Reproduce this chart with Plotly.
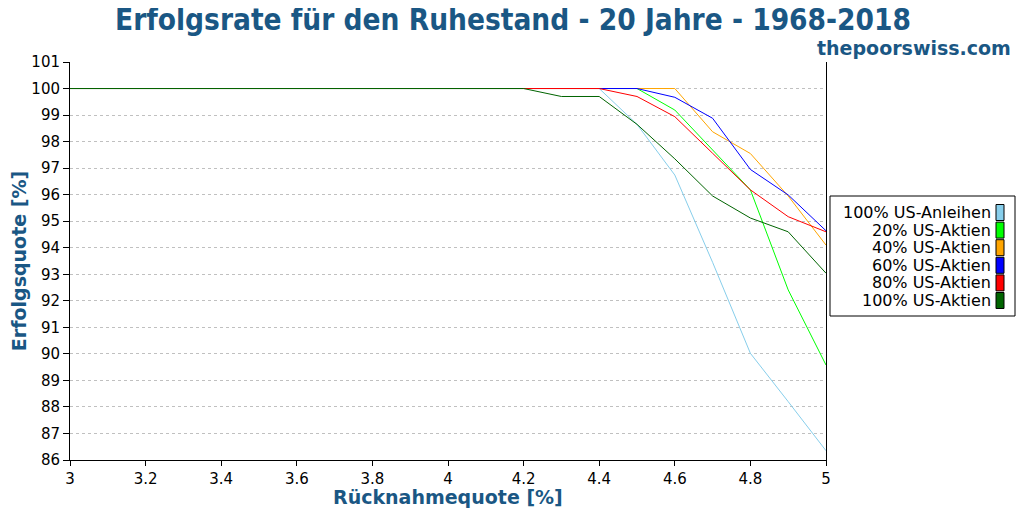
import plotly.graph_objects as go

# withdrawal rates 3.0 .. 5.0 in 0.1 steps
rates = [3.0, 3.1, 3.2, 3.3, 3.4, 3.5, 3.6, 3.7, 3.8, 3.9, 4.0,
         4.1, 4.2, 4.3, 4.4, 4.5, 4.6, 4.7, 4.8, 4.9, 5.0]

flat = [100] * 12  # 3.0 .. 4.1

bonds_100 = flat + [100, 100, 100, 98.65, 96.74, 93.45, 90.02, 88.2, 86.35]
stocks_20 = flat + [100, 100, 100, 100, 99.19, 97.68, 96.18, 92.41, 89.58]
stocks_40 = flat + [100, 100, 100, 100, 100, 98.37, 97.55, 95.95, 94.1]
stocks_60 = flat + [100, 100, 100, 100, 99.67, 98.88, 96.95, 95.99, 94.64]
stocks_80 = flat + [100, 100, 100, 99.7, 98.94, 97.56, 96.18, 95.17, 94.6]
stocks_100 = flat + [100, 99.7, 99.7, 98.65, 97.35, 95.95, 95.12, 94.6, 93.04]

names = ["100% US-Anleihen", "20% US-Aktien", "40% US-Aktien",
         "60% US-Aktien", "80% US-Aktien", "100% US-Aktien"]
colors = ["skyblue", "lime", "orange", "blue", "red", "darkgreen"]
series = [bonds_100, stocks_20, stocks_40, stocks_60, stocks_80, stocks_100]

blue_txt = "#1a5784"
font = "DejaVu Sans"

fig = go.Figure()
for name, col, vals in zip(names, colors, series):
    fig.add_trace(go.Scatter(x=rates, y=vals, name=name, mode="lines",
                             line=dict(color=col, width=1)))

# page pixels -> paper coords (plot area sits at 70..826 x 62..460 on screen)
def px_x(p):
    return (p - 70) / 756

def px_y(p):
    return (460 - p) / 398

# legend drawn by hand: labels right-aligned, colour boxes on the right
shapes = [dict(type="rect", xref="paper", yref="paper",
               x0=px_x(830), x1=px_x(1015), y0=px_y(316), y1=px_y(196),
               line=dict(color="black", width=1), fillcolor="white")]
annotations = []
for i, (name, col) in enumerate(zip(names, colors)):
    cy = 212.5 + i * 17.6
    shapes.append(dict(type="rect", xref="paper", yref="paper",
                       x0=px_x(996), x1=px_x(1004), y0=px_y(cy + 8), y1=px_y(cy - 8),
                       line=dict(color="black", width=1), fillcolor=col))
    annotations.append(dict(text=name, xref="paper", yref="paper",
                            x=px_x(992), y=px_y(cy), xanchor="right", yanchor="middle",
                            showarrow=False, borderpad=0,
                            font=dict(family=font, size=16, color="black")))

annotations += [
    dict(text="<b>Erfolgsrate für den Ruhestand - 20 Jahre - 1968-2018</b>",
         xref="paper", yref="paper", x=px_x(513), y=px_y(20),
         xanchor="center", yanchor="middle", showarrow=False, borderpad=0,
         font=dict(family="DejaVu Sans Condensed", size=29.5, color=blue_txt)),
    dict(text="<b>thepoorswiss.com</b>", xref="paper", yref="paper",
         x=px_x(1012), y=px_y(48), xanchor="right", yanchor="middle",
         showarrow=False, borderpad=0,
         font=dict(family=font, size=19, color=blue_txt)),
    dict(text="<b>Rücknahmequote [%]</b>", xref="paper", yref="paper",
         x=px_x(448), y=px_y(497), xanchor="center", yanchor="middle",
         showarrow=False, borderpad=0,
         font=dict(family=font, size=19, color=blue_txt)),
]

# the page body adds 8px, so margins are shifted to keep the plot in place
fig.update_layout(
    width=1024, height=512,
    margin=dict(l=62, r=206, t=54, b=60),
    paper_bgcolor="white", plot_bgcolor="white",
    showlegend=False,
    font=dict(family=font, size=15, color="black"),
    shapes=shapes, annotations=annotations,
)
fig.update_xaxes(range=[3, 5], dtick=0.2, showgrid=False, zeroline=False,
                 showline=True, linecolor="black", linewidth=1,
                 ticks="outside", ticklen=5, tickcolor="black",
                 tickfont=dict(family=font, size=15), automargin=False)
fig.update_yaxes(range=[86, 101], dtick=1, showgrid=True, gridcolor="#c0c0c0",
                 griddash="dot", gridwidth=1, zeroline=False,
                 showline=True, linecolor="black", linewidth=1, mirror=True,
                 ticks="outside", ticklen=6, tickcolor="black",
                 tickfont=dict(family=font, size=15), automargin=False,
                 title=dict(text="<b>Erfolgsquote [%]</b>", standoff=10,
                            font=dict(family=font, size=19, color=blue_txt)))

fig.write_html("out.html")
